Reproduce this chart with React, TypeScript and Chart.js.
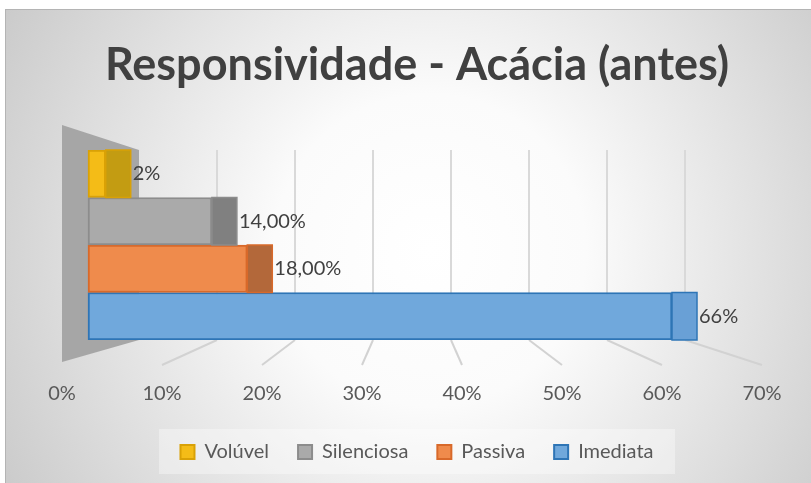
import React, { useEffect, useRef } from 'react';
import { Chart, registerables } from 'chart.js';

Chart.register(...registerables);

// ---- data ----
const TITLE = 'Responsividade - Acácia (antes)';
const categories = ['Volúvel', 'Silenciosa', 'Passiva', 'Imediata'];
const values = [2, 14, 18, 66];
const dataLabels = ['2%', '14,00%', '18,00%', '66%'];
const axisMin = 0;
const axisMax = 70;
const axisStep = 10;

// ---- styles ----
const fillColors = ['#f4bc17', '#aaaaaa', '#ef8b4c', '#70a8dc'];
const borderColors = ['#d9a106', '#8c8c8c', '#d8692a', '#2e75b6'];
const sideColors = ['#c39c12', '#808080', '#b3683a', '#69a0d6'];
const FONT = 'Lato, "Open Sans", sans-serif';
// the bars sit on a plane between the back wall and the labelled front edge
const BAR_AXIS_MIN = -2.94;
const BAR_AXIS_MAX = 76.17;
const DEPTH = 25;
const PERSPECTIVE = 0.78;

const perspectivePlugin = {
  id: 'perspective3d',
  beforeDraw(chart: any) {
    const { ctx, width, height } = chart;
    ctx.save();
    ctx.fillStyle = '#ffffff';
    ctx.fillRect(0, 0, width, height);
    const g = ctx.createRadialGradient(430, 250, 0, 430, 250, 520);
    g.addColorStop(0, '#ffffff');
    g.addColorStop(0.3, '#fbfbfb');
    g.addColorStop(1, '#c6c6c6');
    ctx.fillStyle = g;
    ctx.fillRect(5, 9, width - 5, height - 9);
    ctx.strokeStyle = '#b4b4b4';
    ctx.lineWidth = 1;
    ctx.strokeRect(5.5, 9.5, width - 5, height - 9);
    const lg = chart.legend;
    if (lg) {
      const cx = (lg.left + lg.right) / 2;
      const cy = lg.top + lg.options.labels.padding + 10;
      ctx.fillStyle = 'rgba(255,255,255,0.35)';
      ctx.fillRect(cx - 258, cy - 23, 516, 45);
    }
    ctx.restore();
  },
  beforeDatasetsDraw(chart: any) {
    const { ctx, chartArea } = chart;
    const xs = chart.scales.x;
    const vp = (chartArea.left + chartArea.right) / 2;
    const back = (px: number) => vp + (px - vp) * PERSPECTIVE;
    const top = chartArea.top;
    const bottom = chartArea.bottom;
    ctx.save();
    for (let v = axisMin + axisStep; v <= axisMax; v += axisStep) {
      const fx = xs.getPixelForValue(v);
      const bx = back(fx);
      ctx.strokeStyle = '#d9d9d9';
      ctx.lineWidth = 2;
      ctx.beginPath();
      ctx.moveTo(bx, top);
      ctx.lineTo(bx, bottom);
      ctx.stroke();
      ctx.strokeStyle = '#d2d2d2';
      ctx.beginPath();
      ctx.moveTo(bx, bottom);
      ctx.lineTo(fx, bottom + 25);
      ctx.stroke();
    }
    const f0 = xs.getPixelForValue(axisMin);
    const b0 = back(f0);
    ctx.fillStyle = '#a6a6a6';
    ctx.beginPath();
    ctx.moveTo(f0, top - 25);
    ctx.lineTo(b0, top);
    ctx.lineTo(b0, bottom);
    ctx.lineTo(f0, bottom + 22);
    ctx.closePath();
    ctx.fill();
    ctx.restore();
  },
  afterDatasetsDraw(chart: any) {
    const { ctx } = chart;
    ctx.save();
    chart.data.datasets.forEach((ds: any, i: number) => {
      const meta = chart.getDatasetMeta(i);
      meta.data.forEach((el: any, j: number) => {
        if (ds.data[j] == null) return;
        const { x, y, height } = el.getProps(['x', 'y', 'height'], true);
        const t = y - height / 2;
        ctx.fillStyle = sideColors[i];
        ctx.strokeStyle = borderColors[i];
        ctx.lineWidth = 1.5;
        ctx.beginPath();
        ctx.rect(x, t, DEPTH, height);
        ctx.fill();
        ctx.stroke();
        ctx.fillStyle = '#404040';
        ctx.font = `20px ${FONT}`;
        ctx.textAlign = 'left';
        ctx.textBaseline = 'middle';
        ctx.fillText(dataLabels[j], x + DEPTH + 2, y);
      });
    });
    ctx.restore();
  },
};

export default function App() {
  const ref = useRef<HTMLCanvasElement>(null);
  useEffect(() => {
    const datasets = categories.map((c, i) => ({
      label: c,
      data: values.map((v, j) => (j === i ? v : null)),
      backgroundColor: fillColors[i],
      borderColor: borderColors[i],
      borderWidth: 2,
      borderSkipped: false,
      barPercentage: 1,
      categoryPercentage: 1,
      xAxisID: 'xb',
      yAxisID: 'y',
    }));
    const chart = new Chart(ref.current as HTMLCanvasElement, {
      type: 'bar',
      data: { labels: categories, datasets },
      plugins: [perspectivePlugin],
      options: {
        indexAxis: 'y',
        animation: false,
        responsive: false,
        devicePixelRatio: 1,
        layout: { padding: { left: 62, right: 39, top: 0, bottom: 11 } },
        scales: {
          x: {
            type: 'linear',
            position: 'bottom',
            min: axisMin,
            max: axisMax,
            afterFit: (s: any) => {
              s.height = 73;
            },
            ticks: {
              stepSize: axisStep,
              autoSkip: false,
              maxRotation: 0,
              padding: 2,
              color: '#595959',
              font: { family: FONT, size: 20 },
              callback: (v: any) => `${v}%`,
            },
            grid: { display: false, drawTicks: true, tickLength: 40 },
            border: { display: false },
          },
          xb: {
            type: 'linear',
            position: 'bottom',
            display: false,
            min: BAR_AXIS_MIN,
            max: BAR_AXIS_MAX,
            stacked: true,
          },
          y: {
            type: 'category',
            position: 'right',
            display: true,
            stacked: true,
            ticks: { display: false },
            grid: { display: false, drawTicks: false },
            border: { display: false },
            afterFit: (s: any) => {
              s.width = 10;
            },
          },
        },
        plugins: {
          title: {
            display: true,
            text: TITLE,
            color: '#404040',
            font: { family: FONT, size: 45, weight: 'bold' },
            padding: { top: 38, bottom: 58 },
          },
          legend: {
            display: true,
            position: 'bottom',
            labels: {
              boxWidth: 14,
              boxHeight: 14,
              padding: 29,
              color: '#595959',
              font: { family: FONT, size: 20 },
            },
          },
          tooltip: { enabled: false },
        },
      } as any,
    });
    return () => chart.destroy();
  }, []);
  return (
    <div style={{ position: 'absolute', left: 0, top: 0, width: 811, height: 483 }}>
      <canvas ref={ref} width={811} height={483} style={{ display: 'block', width: 811, height: 483 }} />
    </div>
  );
}
